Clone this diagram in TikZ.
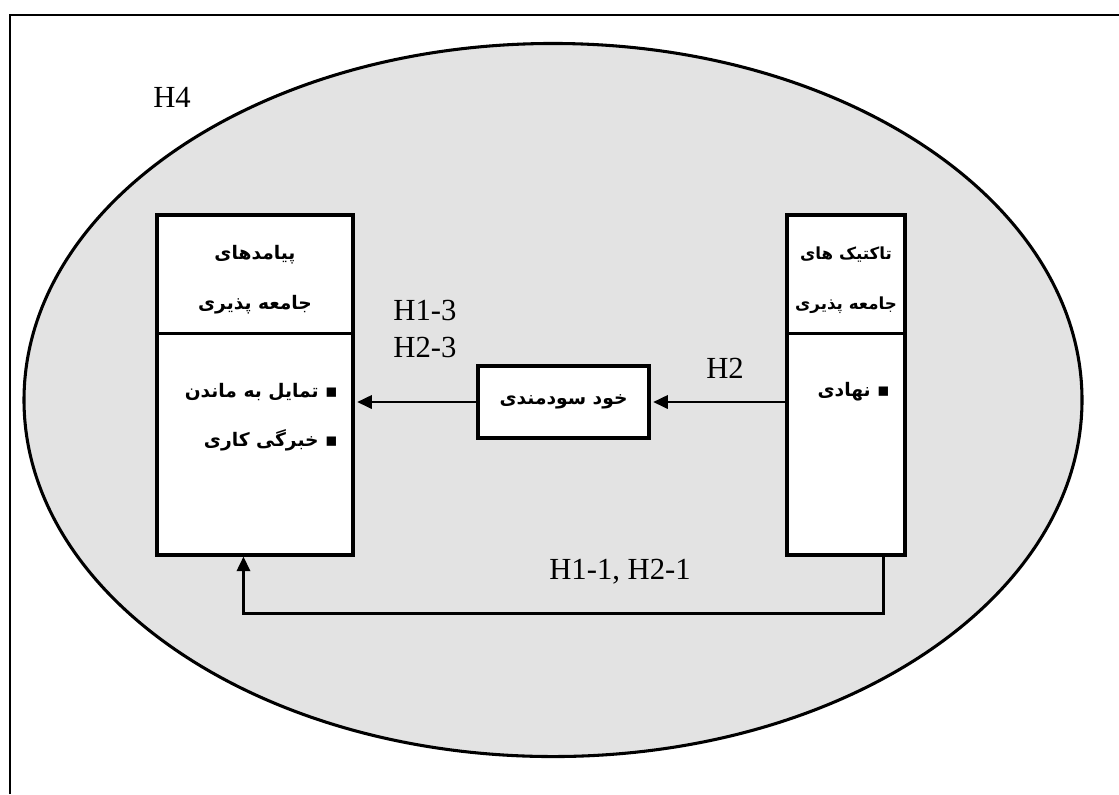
\documentclass[tikz,border=0pt]{standalone}
\usepackage{fontspec}
\setmainfont{Liberation Serif}
\newfontfamily\fa[Script=Arabic]{DejaVu Sans}
\TeXXeTstate=1
\usetikzlibrary{arrows.meta,calc}
\definecolor{ellfill}{HTML}{E3E3E3}
\begin{document}
\begin{tikzpicture}[x=0.75pt,y=-0.75pt,
  box/.style={draw,line width=2.3pt,fill=white,inner sep=0pt},
  lat/.style={font=\fontsize{23}{27}\selectfont,inner sep=0pt},
  fat/.style={font=\fa\bfseries\fontsize{14}{17}\selectfont,inner sep=0pt},
  fats/.style={font=\fa\bfseries\fontsize{12.5}{15}\selectfont,inner sep=0pt},
  arr/.style={line width=1.9pt,-{Triangle[length=11pt,width=10pt]}},
]
\useasboundingbox (0,0) rectangle (1119,794);
\draw[line width=1.6pt] (10,794) -- (10,15) -- (1119,15);
\draw[line width=2.3pt,fill=ellfill] (553,400) ellipse [x radius=396.75pt,y radius=267.4pt];
% boxes
\node[box,minimum width=147pt,minimum height=255pt] (L) at (255,385) {};
\node[box,minimum width=88.5pt,minimum height=255pt] (R) at (846,385) {};
\node[box,minimum width=128.25pt,minimum height=54pt] (M) at (563.5,402) {};
\draw[line width=2.3pt] ($(L.north west)+(0,120)$) -- ($(L.north east)+(0,120)$);
\draw[line width=2.3pt] ($(R.north west)+(0,120)$) -- ($(R.north east)+(0,120)$);
% persian texts
\node[fat] (Mt) at (M) {\beginR خود سودمندی\endR};
\node[fat] (L1) at (255,255) {\beginR پیامدهای\endR};
\node[fat] (L2) at (255,305) {\beginR جامعه پذیری\endR};
\node[fat,anchor=east] (L3) at (338,392) {\beginR ▪ تمایل به ماندن\endR};
\node[fat,anchor=east] (L4) at (338,440) {\beginR ▪ خبرگی کاری\endR};
\node[fats] (R1) at (846,255) {\beginR تاکتیک های\endR};
\node[fats] (R2) at (846,305) {\beginR جامعه پذیری\endR};
\node[fat,anchor=east] (R3) at (890,392) {\beginR ▪ نهادی\endR};
% latin labels
\node[lat] (H4) at (172,97) {H4};
\node[lat] (h13) at (425,310) {H1-3};
\node[lat] (h23) at (425,347) {H2-3};
\node[lat] (h2) at (725,368) {H2};
\node[lat] (h11) at (620,572) {H1-1, H2-1};
% connectors
\draw[arr,shorten >=2pt] (R.west |- M.east) -- (M.east);
\draw[arr,shorten >=2pt] (M.west) -- (L.east |- M.west);
\draw[arr] ($(R.south east)+(-23,0)$) -- ++(0,57) -| ($(L.south west)+(88,0)$);
\end{tikzpicture}
\end{document}
